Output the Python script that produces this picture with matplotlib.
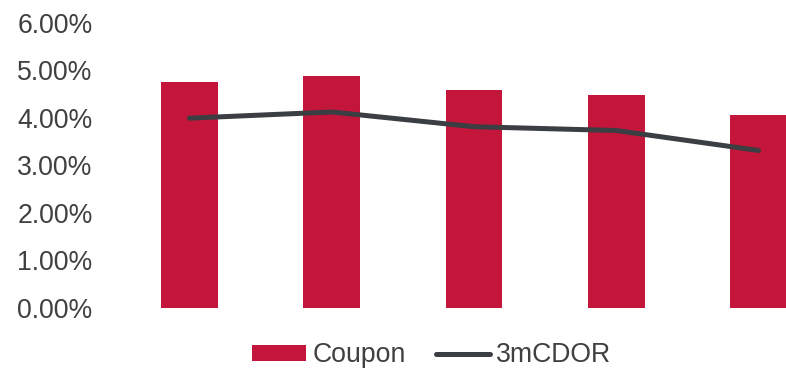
import matplotlib
matplotlib.use("Agg")
import matplotlib.pyplot as plt
from matplotlib.ticker import FuncFormatter

categories = ["1", "2", "3", "4", "5"]
coupon = [4.75, 4.87, 4.58, 4.47, 4.06]
cdor = [3.99, 4.12, 3.81, 3.73, 3.31]
yticks = [0, 1, 2, 3, 4, 5, 6]

plt.rcParams['font.family'] = ['Liberation Sans', 'DejaVu Sans']

fig = plt.figure(figsize=(7.86, 3.72), dpi=100)
ax = fig.add_axes([0.1506, 0.1729, 1.0555 - 0.1506, 0.939 - 0.1729])

x = list(range(len(categories)))
bars = ax.bar(x, coupon, width=0.4, color="#C4153A", label="Coupon", zorder=2)
line, = ax.plot(x, cdor, color="#3B3E42", lw=3.6, solid_capstyle="round",
                solid_joinstyle="round", label="3mCDOR", zorder=3)

ax.set_ylim(0, 6)
ax.set_xlim(-0.5, 4.5)
ax.set_yticks(yticks)
ax.yaxis.set_major_formatter(FuncFormatter(lambda v, p: f"{v:.2f}%"))
ax.set_xticks([])
ax.tick_params(axis='y', length=0, pad=18.5, labelsize=19.2, labelcolor="#404040")
for s in ax.spines.values():
    s.set_visible(False)

leg = fig.legend([bars, line], ["Coupon", "3mCDOR"], loc="center",
                 bbox_to_anchor=(0.5495, 0.045), ncol=2, frameon=False,
                 fontsize=19.2, handlelength=2.0, handleheight=0.55, handletextpad=0.25,
                 columnspacing=1.15, borderpad=0, borderaxespad=0)
for t in leg.get_texts():
    t.set_color("#404040")

fig.savefig("out.png", dpi=100)
